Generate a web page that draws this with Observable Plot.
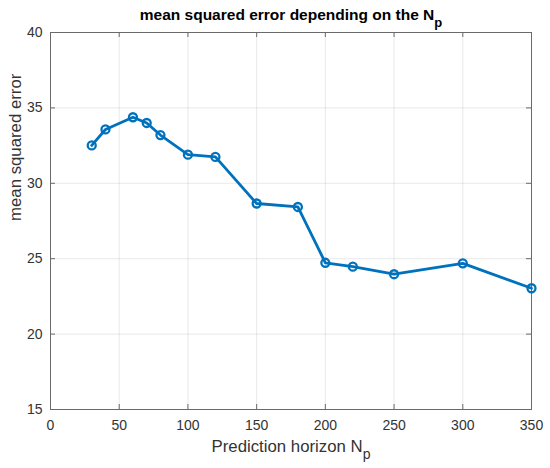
<!DOCTYPE html>
<html>
<head>
<meta charset="utf-8">
<script src="https://cdn.jsdelivr.net/npm/d3@7"></script>
<script src="https://cdn.jsdelivr.net/npm/@observablehq/plot@0.6"></script>
<style>
  html, body { margin: 0; padding: 0; background: #fff; }
  #chart svg { display: block; }
</style>
</head>
<body>
<div id="chart"></div>
<script>
// Data
const horizon = [30, 40, 60, 70, 80, 100, 120, 150, 180, 200, 220, 250, 300, 350];
const mse = [32.51, 33.57, 34.38, 34.0, 33.2, 31.9, 31.75, 28.66, 28.43, 24.73, 24.47, 23.97, 24.69, 23.04];
const xTicks = [0, 50, 100, 150, 200, 250, 300, 350];
const yTicks = [15, 20, 25, 30, 35, 40];
const titleText = "mean squared error depending on the N";
const xLabelText = "Prediction horizon N";
const yLabelText = "mean squared error";
const subText = "p";

const data = horizon.map((h, i) => ({h, v: mse[i]}));

const W = 550, H = 468;
const mL = 50, mR = 19, mT = 32, mB = 59;
const plotW = W - mL - mR, plotH = H - mT - mB;
const ink = "#333333";
const font = "'Liberation Sans', Arial, Helvetica, sans-serif";
const blue = "#0072BD";

const chart = Plot.plot({
  width: W,
  height: H,
  marginLeft: mL,
  marginRight: mR,
  marginTop: mT,
  marginBottom: mB,
  style: {fontFamily: font, fontSize: "14px", color: ink, background: "#fff", overflow: "visible"},
  x: {domain: [0, 350], label: null},
  y: {domain: [15, 40], label: null},
  marks: [
    Plot.gridX(xTicks, {stroke: "#262626", strokeOpacity: 0.1}),
    Plot.gridY(yTicks, {stroke: "#262626", strokeOpacity: 0.1}),
    Plot.frame({stroke: "#6a6a6a", strokeWidth: 1}),
    // inward ticks on all four sides
    Plot.tickX(xTicks, {x: d => d, insetTop: plotH - 5, stroke: "#6a6a6a"}),
    Plot.tickX(xTicks, {x: d => d, insetBottom: plotH - 5, stroke: "#6a6a6a"}),
    Plot.tickY(yTicks, {y: d => d, insetRight: plotW - 5, stroke: "#6a6a6a"}),
    Plot.tickY(yTicks, {y: d => d, insetLeft: plotW - 5, stroke: "#6a6a6a"}),
    Plot.axisX(xTicks, {tickSize: 0, tickPadding: 11, fill: ink, fontSize: 14}),
    Plot.axisY(yTicks, {tickSize: 0, tickPadding: 8, fill: ink, fontSize: 14}),
    Plot.line(data, {x: "h", y: "v", stroke: blue, strokeWidth: 2.8}),
    Plot.dot(data, {x: "h", y: "v", r: 4, stroke: blue, strokeWidth: 2.3, fill: "none"}),
    Plot.text([titleText], {text: d => d, frameAnchor: "top", lineAnchor: "middle", dy: -17, fontWeight: "bold", fontSize: 15.5, fill: "#000"}),
    Plot.text([xLabelText], {text: d => d, frameAnchor: "bottom", lineAnchor: "middle", dy: 37, fontSize: 16.8, fill: ink}),
    Plot.text([yLabelText], {text: d => d, frameAnchor: "left", rotate: -90, lineAnchor: "middle", dx: -35, fontSize: 16.8, fill: ink})
  ]
});

document.getElementById("chart").appendChild(chart);

// add subscript "p" to title and x label
d3.select(chart).selectAll("text").each(function() {
  const t = this.textContent;
  if (t === titleText || t === xLabelText) {
    const isTitle = t === titleText;
    d3.select(this).append("tspan")
      .attr("dy", "0.5em")
      .attr("font-size", isTitle ? "13px" : "14px")
      .text(subText);
  }
});
</script>
</body>
</html>
